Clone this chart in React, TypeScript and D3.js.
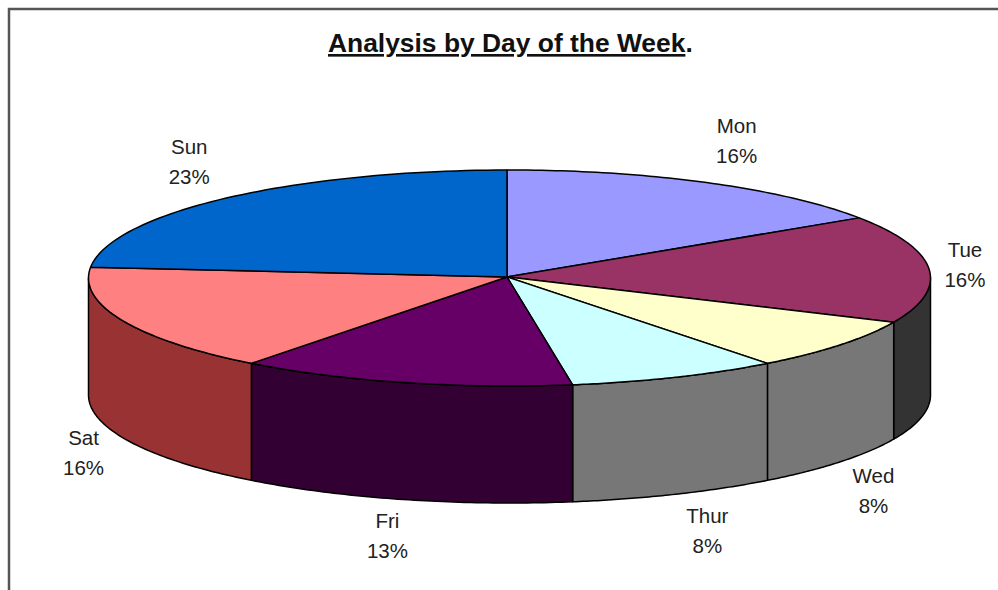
import * as d3 from 'd3';
import React from 'react';

const days = ['Mon', 'Tue', 'Wed', 'Thur', 'Fri', 'Sat', 'Sun'];
const shares = [15.7, 16.1, 7.8, 8.1, 12.9, 16.1, 23.3];
const topColors = ['#9999FF', '#993366', '#FFFFCC', '#CCFFFF', '#660066', '#FF8080', '#0066CC'];
const sideColors = ['#4D4D80', '#333333', '#777777', '#777777', '#330033', '#993333', '#003366'];

// label nudges from the rim point at each slice's middle angle
const labelNudge = [
  [30, -50], [36, -12], [33, 138], [32, 146], [-16, 145], [-39, 124], [-37, -44],
];

const width = 998;
const height = 590;
const cx = 509.5;
const cy = 278;
const rx = 421;
const ry = 108;
const depth = 117;
// the slices meet a little left of the rim's centre in the original
const apex: [number, number] = [507, 277];
// small turn so the first slice edge stands upright above the apex
const turn = -0.006;

const title = 'Analysis by Day of the Week';
const font = '"Liberation Sans", Arial, sans-serif';

const App = () => {
  const slices = d3.pie<number>().sort(null).startAngle(turn).endAngle(2 * Math.PI + turn)(shares);
  const total = d3.sum(shares);
  const pct = (v: number) => d3.format('.0%')(v / total);

  const x = d3.scaleLinear().domain([-1, 1]).range([cx - rx, cx + rx]);
  const y = d3.scaleLinear().domain([-1, 1]).range([cy - ry, cy + ry]);
  const rim = (a: number, drop = 0): [number, number] => [x(Math.sin(a)), y(-Math.cos(a)) + drop];
  const sweep = (a0: number, a1: number) => d3.range(0, 61).map((i) => a0 + ((a1 - a0) * i) / 60);

  const line = d3.line();

  const wedge = (s: d3.PieArcDatum<number>) =>
    line([apex, ...sweep(s.startAngle, s.endAngle).map((a) => rim(a))]) + 'Z';

  // only the part of the wall between 90 and 270 degrees faces the viewer
  const wall = (s: d3.PieArcDatum<number>) => {
    const a0 = Math.max(s.startAngle, Math.PI / 2);
    const a1 = Math.min(s.endAngle, (3 * Math.PI) / 2);
    if (a1 <= a0) return null;
    const angles = sweep(a0, a1);
    const pts = [...angles.map((a) => rim(a)), ...angles.reverse().map((a) => rim(a, depth))];
    return line(pts) + 'Z';
  };

  return (
    <svg
      width={width}
      height={height}
      style={{ position: 'absolute', left: 0, top: 0, display: 'block', background: '#fff' }}
      fontFamily={font}
    >
      <path d={`M9,${height}V9H${width}`} fill="none" stroke="#555" strokeWidth={2.5} />

      <text x={328} y={52} fontSize={26.4} fontWeight="bold" fill="#111">
        <tspan textDecoration="underline">{title}</tspan>
        <tspan>.</tspan>
      </text>

      {slices.map((s, i) => {
        const d = wall(s);
        return d ? <path key={i} d={d} fill={sideColors[i]} stroke="#000" strokeWidth={1.5} strokeLinejoin="round" /> : null;
      })}

      {slices.map((s, i) => (
        <path key={i} d={wedge(s)} fill={topColors[i]} stroke="#000" strokeWidth={1.5} strokeLinejoin="round" />
      ))}

      {slices.map((s, i) => {
        const [px, py] = rim((s.startAngle + s.endAngle) / 2);
        const lx = px + labelNudge[i][0];
        const ly = py + labelNudge[i][1];
        return (
          <text key={i} x={lx} y={ly} textAnchor="middle" fontSize={20.5} fill="#222">
            <tspan x={lx}>{days[i]}</tspan>
            <tspan x={lx} dy={30}>{pct(s.value)}</tspan>
          </text>
        );
      })}
    </svg>
  );
};

export default App;
